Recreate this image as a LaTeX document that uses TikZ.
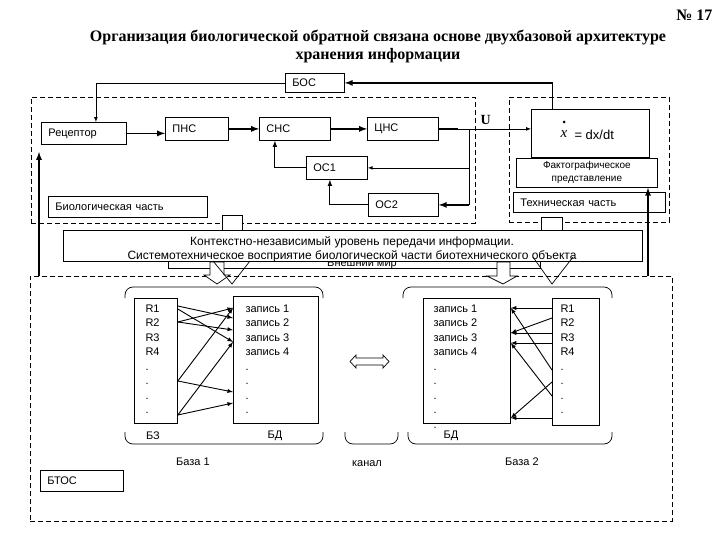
\documentclass[tikz,border=0pt]{standalone}
\usepackage{fontspec}
\setmainfont{Liberation Sans}
\newfontfamily\serifbold{Liberation Serif}
\begin{document}
\begin{tikzpicture}[x=1pt,y=-1pt,
  font=\fontsize{11}{13}\selectfont,
  blk/.style={draw, line width=0.8pt, anchor=north west, inner xsep=7pt, inner ysep=0pt, align=left},
  plainbox/.style={draw, line width=0.8pt, anchor=north west, inner sep=0pt},
  dashbox/.style={draw, line width=0.8pt, dash pattern=on 5pt off 3pt, anchor=north west, inner sep=0pt},
  thinln/.style={line width=0.7pt},
  midln/.style={line width=1.1pt},
  boldln/.style={line width=1.7pt},
  link/.style={line width=0.9pt},
  ttl/.style={font=\serifbold\bfseries\fontsize{16}{18}\selectfont}]
\useasboundingbox (0,0) rectangle (720,540);

\node[ttl, anchor=east] (num) at (716,15) {№ 17};
\node[ttl, align=center] (title) at (378,46) {Организация биологической обратной связана основе двухбазовой архитектуре\\хранения информации};

\node[dashbox, minimum width=444pt, minimum height=126pt] (biopart) at (31,97) {};
\node[dashbox, minimum width=160pt, minimum height=125pt] (techpart) at (509,97) {};
\node[dashbox, minimum width=642pt, minimum height=245pt] (lower) at (30,276) {};

\node[blk, text width=45pt, minimum height=19pt] (bos) at (285,73) {БОС};
\node[blk, text width=71pt, minimum height=22pt] (rec) at (41,122) {Рецептор};
\node[blk, text width=49pt, minimum height=23pt] (pns) at (165,117) {ПНС};
\node[blk, text width=57pt, minimum height=23pt] (sns) at (259,117) {СНС};
\node[blk, text width=57pt, minimum height=23pt] (cns) at (367,117) {ЦНС};
\node[blk, text width=47pt, minimum height=23pt] (os1) at (306,156) {ОС1};
\node[blk, text width=56pt, minimum height=23pt] (os2) at (368,193) {ОС2};
\node[blk, text width=145pt, minimum height=21pt] (bio) at (48,196) {Биологическая часть};

\node[plainbox, minimum width=118pt, minimum height=48pt] (xdot) at (531,109) {};
\node[font=\serifbold\itshape\fontsize{15}{15}\selectfont] (xvar) at (564,134) {x};
\fill (564,122) circle (1.5pt);
\node[anchor=west, font=\fontsize{13}{13}\selectfont] (deriv) at (571,135) {= dx/dt};
\node[plainbox, fill=white, minimum width=141pt, minimum height=29pt, align=center, font=\fontsize{10}{13}\selectfont] (fakt) at (516,158) {Фактографическое\\представление};
\node[blk, text width=138pt, minimum height=20pt] (tech) at (513,192) {Техническая часть};

\draw[thinln,-latex] (bos.west) -| ([xshift=12pt]rec.north);
\draw[boldln,-latex] ([xshift=-38pt]xdot.north) |- (bos.east);
\draw[boldln,-latex] (rec.east) -- (rec.east -| pns.west);
\draw[boldln,-latex] (pns.east) -- (sns.west);
\draw[boldln,-latex] (sns.east) -- (cns.west);
\draw[boldln] (cns.east) -- ++(19,0) coordinate (uout);
\draw[thinln,-latex] (uout) -- (uout -| xdot.west)
  node[pos=0.38, above=1pt, font=\serifbold\bfseries\fontsize{14}{14}\selectfont] (ulbl) {U};
\coordinate (split) at (cns.east -| 469,0);
\draw[thinln] (split) -- (split |- os2.east);
\draw[thinln,-latex] (split |- os1.east) -- (os1.east);
\draw[boldln,-latex] (split |- os2.east) -- (os2.east);
\draw[midln,-latex] (os1.west) -| ([xshift=-20pt]sns.south);
\draw[midln,-latex] (os2.west) -| ([xshift=-7pt]os1.south);

\node[plainbox, fill=white, minimum width=20pt, minimum height=15pt] (port1) at (222,215) {};
\node[plainbox, fill=white, minimum width=21pt, minimum height=13pt] (port2) at (541,217) {};

\node[plainbox, minimum width=372pt, minimum height=30pt] (world) at (168,238) {};
\node (worldtxt) at (362,264) {Внешний мир};
\node[plainbox, fill=white, minimum width=579pt, minimum height=31pt] (ctx) at (63,230) {};
\node[align=center, font=\fontsize{12}{14}\selectfont] (ctxtxt) at (352,249) {Контекстно-независимый уровень передачи информации.\\Системотехническое восприятие биологической части биотехнического объекта};

\filldraw[thinln, fill=white] (210,262) -- (224,262) -- (224,275) -- (230,275) -- (217,284) -- (204,275) -- (210,275) -- cycle;
\draw[thinln] (213,261) -- (232,284) -- (250,261);
\filldraw[thinln, fill=white] (497,262) -- (510,262) -- (510,276) -- (517,276) -- (503,284) -- (487,276) -- (497,276) -- cycle;
\draw[thinln] (533,257) -- (552,284) -- (573,257);

\coordinate (recin) at (39,152);
\draw[boldln,-latex] (lower.north -| recin) -- (recin);
\draw[boldln,-latex] (lower.north -| 648,0) -- (fakt.south -| 648,0);

\draw[thinln, rounded corners=8pt] (125,298) |- (323,287) -- (323,298);
\draw[thinln, rounded corners=8pt] (125,432) |- (323,444) -- (323,432);
\draw[thinln, rounded corners=8pt] (345,432) |- (398,444) -- (398,432);
\draw[thinln, rounded corners=8pt] (403,298) |- (612,287) -- (612,298);
\draw[thinln, rounded corners=8pt] (408,432) |- (612,444) -- (612,432);

\node[plainbox, minimum width=43pt, minimum height=125pt] (bz1) at (134,298) {};
\node[plainbox, minimum width=85pt, minimum height=127pt] (bd1) at (233,296) {};
\node[plainbox, minimum width=87pt, minimum height=125pt] (bd2) at (423,298) {};
\node[plainbox, minimum width=47pt, minimum height=127pt] (bz2) at (552,298) {};
\foreach \i in {1,...,4} {
  \node[anchor=base west] (zl\i) at (142,297.5+14.5*\i) {R\i};
  \node[anchor=base west] (dl\i) at (242,297.5+14.5*\i) {запись \i};
  \node[anchor=base west] (dr\i) at (430,297.5+14.5*\i) {запись \i};
  \node[anchor=base west] (zr\i) at (557,297.5+14.5*\i) {R\i};
}
\foreach \i in {5,...,8} {
  \node[anchor=base west] (zl\i) at (142,297.5+14.5*\i) {.};
  \node[anchor=base west] (dl\i) at (242,297.5+14.5*\i) {.};
  \node[anchor=base west] (dr\i) at (430,297.5+14.5*\i) {.};
  \node[anchor=base west] (zr\i) at (557,297.5+14.5*\i) {.};
}
\node[anchor=base west] (dr9) at (430,428) {.};

\foreach \a/\b in {306/318,309/342,322/308,322/330,381/308,381/392,415/342,415/403}
  \draw[link,-latex] (bz1.east |- 0,\a) -- (bd1.west |- 0,\b);
\foreach \a/\b in {308/308,308/370,333/318,333/333,343/343,343/396,418/382,418/418}
  \draw[link,latex-] (bd2.east |- 0,\a) -- (bz2.west |- 0,\b);

\draw[thinln] (350,361.5) -- (356,355) -- (356,358) -- (383,358) -- (383,355) -- (389,361.5) -- (383,368) -- (383,365) -- (356,365) -- (356,368) -- cycle;

\node (bz1lbl) at (153,436) {БЗ};
\node (bd1lbl) at (275,436) {БД};
\node (bd2lbl) at (451,436) {БД};
\node (base1) at (193,462) {База 1};
\node (chan) at (367,464) {канал};
\node (base2) at (522,462) {База 2};
\node[blk, text width=69pt, minimum height=21pt] (btos) at (40,470) {БТОС};
\end{tikzpicture}
\end{document}
